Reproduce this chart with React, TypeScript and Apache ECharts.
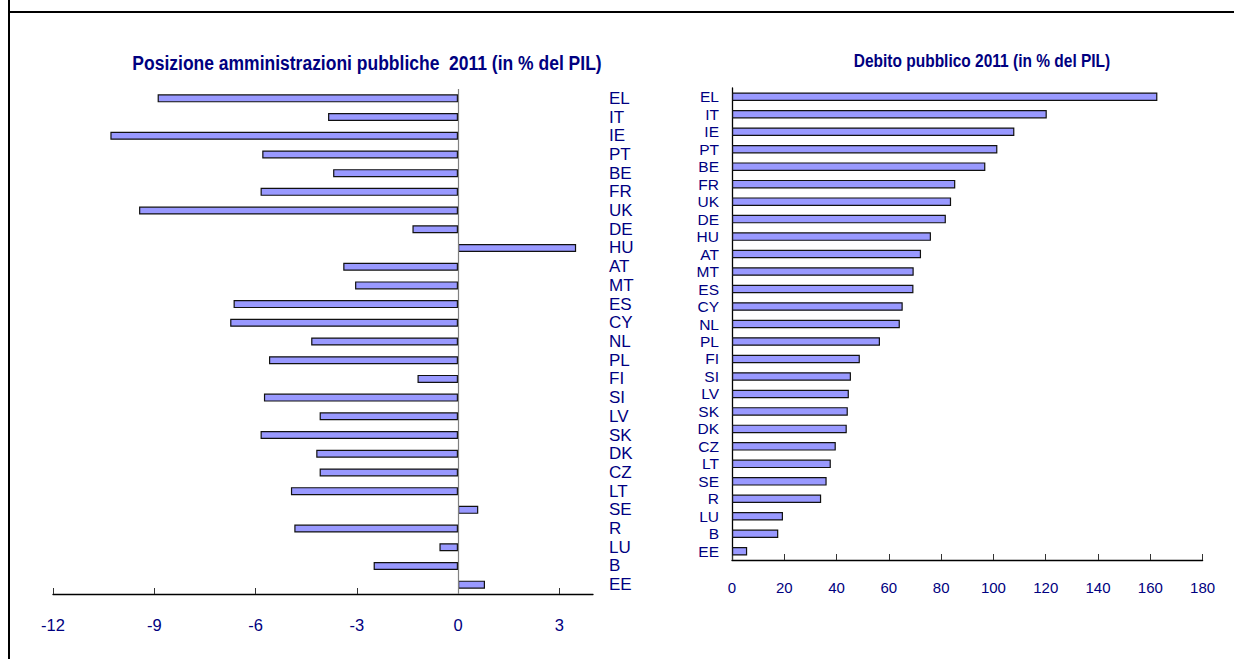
import React, { useEffect, useRef } from "react";
import * as echarts from "echarts";

const categories = ["EL", "IT", "IE", "PT", "BE", "FR", "UK", "DE", "HU", "AT", "MT", "ES", "CY", "NL", "PL", "FI", "SI", "LV", "SK", "DK", "CZ", "LT", "SE", "R", "LU", "B", "EE"];

const balance2011 = [-8.9, -3.85, -10.3, -5.8, -3.7, -5.85, -9.45, -1.35, 3.5, -3.4, -3.05, -6.65, -6.75, -4.35, -5.6, -1.2, -5.75, -4.1, -5.85, -4.2, -4.1, -4.95, 0.6, -4.85, -0.55, -2.5, 0.8];

const debt2011 = [162.7, 120.4, 108, 101.5, 96.9, 85.4, 83.8, 81.8, 76.1, 72.3, 69.5, 69.4, 65.3, 64.2, 56.6, 48.9, 45.5, 44.7, 44.3, 43.9, 39.7, 37.8, 36.2, 34.1, 19.5, 17.7, 5.8];

const balanceTicks = [-12, -9, -6, -3, 0, 3];

const leftTitle = "Posizione amministrazioni pubbliche  2011 (in % del PIL)";
const rightTitle = "Debito pubblico 2011 (in % del PIL)";

const FONT = "'Liberation Sans', Arial, sans-serif";
const NAVY = "#000080";

export default function App() {
  const ref = useRef<HTMLDivElement>(null);

  useEffect(() => {
    if (!ref.current) return;
    const chart = echarts.init(ref.current, null, { renderer: "svg" });
    const option: any = {
      animation: false,
      backgroundColor: "#ffffff",
      textStyle: { fontFamily: FONT },
      graphic: [
        { type: "line", shape: { x1: 9, y1: 0, x2: 9, y2: 659 }, style: { stroke: "#000", lineWidth: 2 } },
        { type: "line", shape: { x1: 9, y1: 12, x2: 1234, y2: 12 }, style: { stroke: "#000", lineWidth: 2 } },
        {
          type: "text",
          x: 367,
          y: 63,
          scaleY: 1.2,
          style: { text: leftTitle, align: "center", verticalAlign: "middle", fill: NAVY, font: `bold 17.5px ${FONT}` },
        },
        {
          type: "text",
          x: 982,
          y: 61,
          scaleY: 1.2,
          style: { text: rightTitle, align: "center", verticalAlign: "middle", fill: NAVY, font: `bold 15.5px ${FONT}` },
        },
      ],
      grid: [
        { left: 53, top: 89, width: 540, height: 505 },
        { left: 732, top: 88, width: 470.6, height: 472 },
      ],
      xAxis: [
        {
          type: "value",
          gridIndex: 0,
          min: -12,
          max: 4,
          axisLine: { show: true, lineStyle: { color: "#000", width: 1.3 } },
          axisTick: { show: true, inside: true, length: 6, customValues: balanceTicks, lineStyle: { color: "#333" } },
          axisLabel: { customValues: balanceTicks, color: NAVY, fontSize: 16.5, margin: 22, fontFamily: FONT },
          splitLine: { show: false },
        },
        {
          type: "value",
          gridIndex: 1,
          min: 0,
          max: 180,
          interval: 20,
          axisLine: { show: true, lineStyle: { color: "#000", width: 1.3 } },
          axisTick: { show: true, inside: true, length: 6, lineStyle: { color: "#333" } },
          axisLabel: { color: NAVY, fontSize: 15, margin: 20, fontFamily: FONT },
          splitLine: { show: false },
        },
      ],
      yAxis: [
        {
          type: "category",
          gridIndex: 0,
          data: categories,
          inverse: true,
          position: "right",
          axisLine: { show: false },
          axisTick: { show: false },
          axisLabel: { color: NAVY, fontSize: 17, margin: 16, fontFamily: FONT, interval: 0 },
        },
        {
          type: "category",
          gridIndex: 1,
          data: categories,
          inverse: true,
          axisLine: { show: true, lineStyle: { color: "#000", width: 1.3 } },
          axisTick: { show: false },
          axisLabel: { color: NAVY, fontSize: 15.5, margin: 13, fontFamily: FONT, interval: 0 },
        },
      ],
      series: [
        {
          type: "bar",
          xAxisIndex: 0,
          yAxisIndex: 0,
          data: balance2011,
          barWidth: 8,
          itemStyle: { color: "#9999ff", borderColor: "#111", borderWidth: 1.2 },
          markLine: {
            silent: true,
            symbol: "none",
            label: { show: false },
            lineStyle: { color: "#808080", type: "solid", width: 1.2 },
            data: [{ xAxis: 0 }],
          },
        },
        {
          type: "bar",
          xAxisIndex: 1,
          yAxisIndex: 1,
          data: debt2011,
          barWidth: 8.5,
          itemStyle: { color: "#9999ff", borderColor: "#111", borderWidth: 1.2 },
        },
      ],
    };
    chart.setOption(option);
    return () => chart.dispose();
  }, []);

  return (
    <div
      ref={ref}
      style={{ position: "fixed", left: 0, top: 0, width: 1234, height: 659, background: "#fff" }}
    />
  );
}
